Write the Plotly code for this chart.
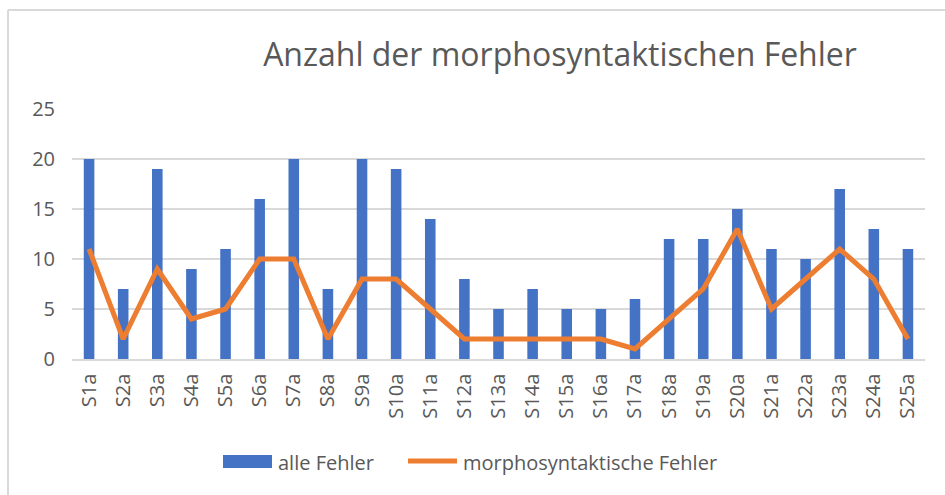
import plotly.graph_objects as go

categories = ["S1a","S2a","S3a","S4a","S5a","S6a","S7a","S8a","S9a","S10a","S11a","S12a","S13a",
              "S14a","S15a","S16a","S17a","S18a","S19a","S20a","S21a","S22a","S23a","S24a","S25a"]
alle_fehler = [20,7,19,9,11,16,20,7,20,19,14,8,5,7,5,5,6,12,12,15,11,10,17,13,11]
morpho_fehler = [11,2,9,4,5,10,10,2,8,8,5,2,2,2,2,2,1,4,7,13,5,8,11,8,2]
y_ticks = [0,5,10,15,20,25]
series_names = ["alle Fehler", "morphosyntaktische Fehler"]

FONT = "Open Sans"
GRAY = "#595959"
BLUE = "#4472C4"
ORANGE = "#ED7D31"

# plot area in pixels: left 72, right 925, top 109, bottom 359
def px(x):
    return (x - 72) / 853

def py(y):
    return (359 - y) / 250

fig = go.Figure()
fig.add_trace(go.Bar(x=categories, y=alle_fehler, name=series_names[0],
                     marker=dict(color=BLUE, line=dict(width=0)), width=0.31))
fig.add_trace(go.Scatter(x=categories, y=morpho_fehler, name=series_names[1],
                         mode="lines", line=dict(color=ORANGE, width=5)))

fig.update_layout(
    width=945, height=495,
    margin=dict(l=72, r=20, t=109, b=136),
    paper_bgcolor="white", plot_bgcolor="white",
    font=dict(family=FONT, color=GRAY, size=20),
    title=dict(text="Anzahl der morphosyntaktischen Fehler", x=560/945, xanchor="center",
               y=1-55/495, yanchor="middle", yref="container",
               font=dict(family=FONT, size=32, color=GRAY)),
    showlegend=False,
)
fig.update_xaxes(tickangle=-90, showgrid=False, showline=True, linecolor="#d9d9d9", linewidth=1.5,
                 ticks="", tickfont=dict(size=20, color=GRAY), ticklabelstandoff=5)
fig.update_yaxes(range=[0,25], tickvals=y_ticks, showgrid=True, gridcolor="#d9d9d9", gridwidth=1.5,
                 zeroline=False, showline=False, ticks="", ticklen=0,
                 tickfont=dict(size=20, color=GRAY), ticklabelstandoff=16)

# chart frame (left and top edges)
fig.add_shape(type="line", xref="paper", yref="paper", x0=px(8), x1=px(945),
              y0=py(10), y1=py(10), line=dict(color="#d9d9d9", width=2))
fig.add_shape(type="line", xref="paper", yref="paper", x0=px(8), x1=px(8),
              y0=py(10), y1=py(495), line=dict(color="#d9d9d9", width=2))

# legend (drawn manually to match the wide Excel legend keys)
fig.add_shape(type="rect", xref="paper", yref="paper", x0=px(223), x1=px(272),
              y0=py(468), y1=py(455), fillcolor=BLUE, line=dict(width=0))
fig.add_annotation(xref="paper", yref="paper", x=px(276), y=py(462), text=series_names[0],
                   showarrow=False, xanchor="left", yanchor="middle",
                   font=dict(family=FONT, size=20, color=GRAY))
fig.add_shape(type="line", xref="paper", yref="paper", x0=px(408), x1=px(457),
              y0=py(461), y1=py(461), line=dict(color=ORANGE, width=5))
fig.add_annotation(xref="paper", yref="paper", x=px(461), y=py(462), text=series_names[1],
                   showarrow=False, xanchor="left", yanchor="middle",
                   font=dict(family=FONT, size=20, color=GRAY))

fig.write_html("out.html", config={"displayModeBar": False},
               post_script="document.body.style.margin='0';document.body.style.padding='0';")
